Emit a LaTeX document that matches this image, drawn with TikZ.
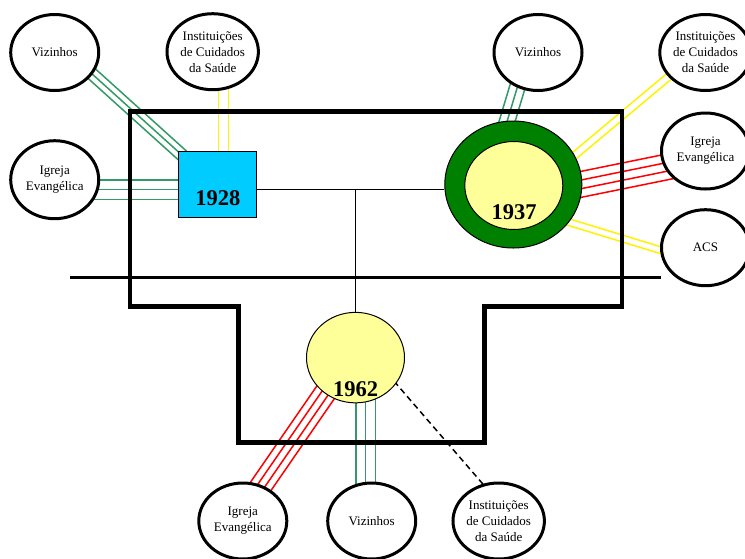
\documentclass[tikz,border=0pt]{standalone}
\usepackage{fontspec}
\setmainfont{Liberation Serif}
\usetikzlibrary{calc,shapes.geometric}
\pgfdeclarelayer{links}
\pgfsetlayers{links,main}
\definecolor{linkgreen}{RGB}{51,153,102}
\definecolor{ringgreen}{RGB}{0,128,0}
\definecolor{paleyellow}{RGB}{255,255,153}
\definecolor{boxcyan}{RGB}{0,204,255}
% several parallel strands between two points, offsets measured across the band
\newcommand\strands[4]{%
  \foreach \o in {#2}{\draw[#1] ($(#3)!\o!90:(#4)$) -- ($(#4)!\o!-90:(#3)$);}}
\tikzset{
  peer/.style={ellipse, draw, line width=3pt, fill=white, minimum width=88pt,
    minimum height=76pt, inner sep=0pt, align=center,
    font=\fontsize{13}{16}\selectfont},
  yeartext/.style={font=\bfseries\fontsize{22.5}{24}\selectfont, inner sep=0pt},
  outline/.style={line width=4.8pt, line join=miter},
  groundline/.style={line width=3pt},
  tie/.style={line width=1.3pt},
  greenlink/.style={linkgreen, line width=1.5pt},
  yellowlink/.style={yellow, line width=1.5pt},
  redlink/.style={red, line width=1.5pt},
  weaklink/.style={line width=1.5pt, dash pattern=on 6pt off 4pt},
}
\begin{document}
\begin{tikzpicture}[x=1pt,y=-1pt]
\useasboundingbox (0,0) rectangle (745,558);
\clip (0,0) rectangle (745,558);

% household frame and ground line
\draw[outline] (130,111.8) -- (622,111.8) -- (622,306.5) -- (484.3,306.5)
  -- (484.3,442.7) -- (238.2,442.7) -- (238.2,306.5) -- (130,306.5) -- cycle;
\draw[groundline] (70,277) -- (661,277);

% generations
\node[draw, line width=1pt, fill=boxcyan, minimum width=78pt, minimum height=66.6pt,
  inner sep=0pt] (y1928) at (217.8,184.5) {};
\node[yeartext] (t1928) at ($(y1928)+(0,13.8)$) {1928};

\node[ellipse, draw, line width=1pt, fill=ringgreen, minimum width=137pt,
  minimum height=127pt, inner sep=0pt] (o1937) at (513.3,184.5) {};
\node[ellipse, draw, line width=1pt, fill=paleyellow, minimum width=98pt,
  minimum height=88pt, inner sep=0pt] (i1937) at (513.8,185.5) {};
\node[yeartext] (t1937) at ($(o1937)+(0.7,27.5)$) {1937};

\node[ellipse, draw, line width=1pt, fill=paleyellow, minimum width=98pt,
  minimum height=90.5pt, inner sep=0pt] (y1962) at (355.5,357.6) {};
\node[yeartext] (t1962) at ($(y1962)+(0,31.4)$) {1962};

% outside relations
\node[peer] (viz1) at (54.7,52.5) {Vizinhos};
\node[peer] (inst1) at (212.7,51.7) {Instituições\\de Cuidados\\da Saúde};
\node[peer, minimum height=78pt] (igr1) at (54.7,179.7) {Igreja\\Evangélica};
\node[peer] (viz2) at (538,52.5) {Vizinhos};
\node[peer] (inst2) at (705.5,52.5) {Instituições\\de Cuidados\\da Saúde};
\node[peer] (igr2) at (705.5,151) {Igreja\\Evangélica};
\node[peer] (acs) at (705.5,247.7) {ACS};
\node[peer] (igr3) at (242.8,521) {Igreja\\Evangélica};
\node[peer] (viz3) at (371.7,521) {Vizinhos};
\node[peer] (inst3) at (498.7,521) {Instituições\\de Cuidados\\da Saúde};

% band end points, tucked under the filled shapes
\coordinate (a1) at ($(viz1)+(16.3,2.4)$);
\coordinate (a2) at ($(y1928)+(-16.2,-11.7)$);
\coordinate (b1) at ($(inst1)+(10.6,18.3)$);
\coordinate (b2) at ($(y1928)+(5.5,-4.5)$);
\coordinate (c1) at ($(igr1)+(25.3,10)$);
\coordinate (c2) at ($(y1928)+(-17.8,5.2)$);
\coordinate (e1) at ($(o1937)+(-14.8,-34.5)$);
\coordinate (e2) at ($(viz2)+(-12.5,7.5)$);
\coordinate (f1) at ($(o1937)+(31.1,-3.8)$);
\coordinate (f2) at ($(inst2)+(-21.9,11.7)$);
\coordinate (g1) at ($(o1937)+(26.7,8.2)$);
\coordinate (g2) at ($(igr2)+(-5.5,9.2)$);
\coordinate (h1) at ($(o1937)+(16.7,25.8)$);
\coordinate (h2) at ($(acs)+(-5.5,14.5)$);
\coordinate (k1) at ($(y1962)+(-14.4,12.3)$);
\coordinate (k2) at ($(igr3)+(2.1,-11.7)$);
\coordinate (m1) at ($(y1962)+(10.2,22.4)$);
\coordinate (m2) at ($(viz3)+(-6,-11)$);
\coordinate (d1) at ($(y1962)+(32,16)$);
\coordinate (d2) at ($(inst3)+(-7.2,-27)$);
\coordinate (hl) at ($(y1928.east)+(0,4.8)$);
\coordinate (hr) at ($(o1937.west)+(0,4.8)$);
\coordinate (jn) at (y1962.north |- hl);

\begin{pgfonlayer}{links}
  \draw[tie] (hl) -- (hr);
  \draw[tie] (jn) -- (y1962.north);
  \strands{greenlink}{-6pt,0pt,6pt}{a1}{a2}
  \strands{yellowlink}{-5pt,5pt}{b1}{b2}
  \strands{greenlink}{-9.7pt,0pt,9.7pt}{c1}{c2}
  \strands{greenlink}{-7.7pt,0pt,7.7pt}{e1}{e2}
  \strands{yellowlink}{-3.6pt,3.6pt}{f1}{f2}
  \strands{redlink}{-12.75pt,-4.25pt,4.25pt,12.75pt}{g1}{g2}
  \strands{yellowlink}{-3.3pt,3.3pt}{h1}{h2}
  \strands{redlink}{-10.8pt,-3.6pt,3.6pt,10.8pt}{k1}{k2}
  \strands{greenlink}{-9.7pt,0pt,9.7pt}{m1}{m2}
  \draw[weaklink] (d1) -- (d2);
\end{pgfonlayer}
\end{tikzpicture}
\end{document}
